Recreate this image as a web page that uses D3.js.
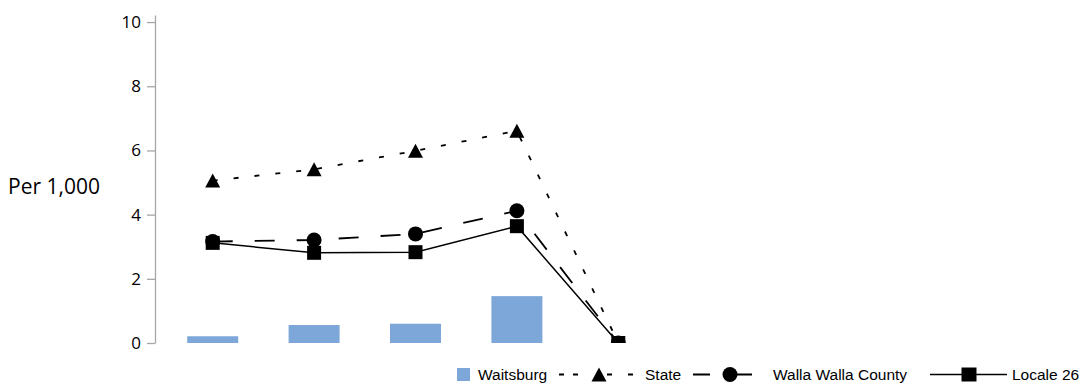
<!DOCTYPE html>
<html>
<head>
<meta charset="utf-8">
<script src="https://cdn.jsdelivr.net/npm/d3@7/dist/d3.min.js"></script>
<style>
  html, body { margin: 0; padding: 0; background: #fff; }
  svg { display: block; }
</style>
</head>
<body>
<svg id="chart" width="1084" height="386"></svg>
<script>
// ---- data ----
const categories = ["1", "2", "3", "4", "5"];
const waitsburg = [0.21, 0.56, 0.60, 1.46, 0];
const state = [5.06, 5.41, 5.99, 6.61, 0];
const county = [3.16, 3.21, 3.40, 4.12, 0];
const locale = [3.12, 2.81, 2.83, 3.64, 0];
const yTicks = [0, 2, 4, 6, 8, 10];
const yLabel = "Per 1,000";
const legendNames = ["Waitsburg", "State", "Walla Walla County", "Locale 26"];

const svg = d3.select("#chart");

const x = d3.scaleBand().domain(categories).range([162, 669]).paddingInner(0).paddingOuter(0);
const y = d3.scaleLinear().domain([0, 10.22]).range([343, 15]);

const tickFont = "'Open Sans', 'Noto Sans', sans-serif";

// clip for plot area
svg.append("defs").append("clipPath").attr("id", "plotclip")
  .append("rect").attr("x", 155).attr("y", 0).attr("width", 929).attr("height", y(0));

// y axis
const yAxis = d3.axisLeft(y).tickValues(yTicks).tickSize(8).tickSizeOuter(0).tickPadding(6).tickFormat(d3.format("d"));
const gy = svg.append("g").attr("transform", "translate(155,0)").call(yAxis);
gy.select(".domain").attr("stroke", "#a6a6a6").attr("stroke-width", 1.3);
gy.selectAll(".tick line").attr("stroke", "#a6a6a6").attr("stroke-width", 1.3);
gy.selectAll(".tick text").attr("fill", "#000").style("font-family", tickFont).style("font-size", "17px");

// y label
svg.append("text").attr("x", 8).attr("y", 194).text(yLabel)
  .style("font-family", tickFont).style("font-size", "21px").attr("fill", "#000");

const plot = svg.append("g").attr("clip-path", "url(#plotclip)");

// bars
const barW = 51;
plot.selectAll("rect.bar").data(waitsburg.map((v, i) => ({ c: categories[i], v })))
  .join("rect").attr("class", "bar")
  .attr("x", d => x(d.c) + x.bandwidth() / 2 - barW / 2)
  .attr("width", barW)
  .attr("y", d => y(d.v))
  .attr("height", d => y(0) - y(d.v))
  .attr("fill", "#7da7d9");

const cx = c => x(c) + x.bandwidth() / 2;
const line = d3.line().x(d => cx(d.c)).y(d => y(d.v));

const triPath = "M0,-7L7.5,7L-7.5,7Z";
const sqPath = "M-7,-7L7,-7L7,7L-7,7Z";

function drawSeries(vals, dash, width, marker) {
  const pts = vals.map((v, i) => ({ c: categories[i], v }));
  plot.append("path").datum(pts).attr("d", line)
    .attr("fill", "none").attr("stroke", "#000").attr("stroke-width", width)
    .attr("stroke-dasharray", dash);
  const g = plot.append("g");
  pts.forEach(p => {
    if (marker === "circle") {
      g.append("circle").attr("cx", cx(p.c)).attr("cy", y(p.v)).attr("r", 7.5).attr("fill", "#000");
    } else {
      g.append("path").attr("d", marker === "tri" ? triPath : sqPath)
        .attr("transform", `translate(${cx(p.c)},${y(p.v)})`).attr("fill", "#000");
    }
  });
}

drawSeries(state, "5,16", 1.8, "tri");
drawSeries(county, "20,22", 1.8, "circle");
drawSeries(locale, null, 1.5, "sq");

// legend
const lg = svg.append("g");
const legendFont = "'Liberation Sans', Arial, sans-serif";
const ly = 374.5;
// Waitsburg
lg.append("rect").attr("x", 457).attr("y", ly - 6.5).attr("width", 13).attr("height", 13).attr("fill", "#7da7d9");
lg.append("text").attr("x", 478).attr("y", ly + 5.5).text(legendNames[0]);
// State
lg.append("line").attr("x1", 559).attr("x2", 634).attr("y1", ly).attr("y2", ly)
  .attr("stroke", "#000").attr("stroke-width", 1.8).attr("stroke-dasharray", "5,9,5,29,5,16,5,100");
lg.append("path").attr("d", triPath).attr("transform", `translate(599,${ly})`).attr("fill", "#000");
lg.append("text").attr("x", 645).attr("y", ly + 5.5).text(legendNames[1]);
// County
lg.append("line").attr("x1", 693).attr("x2", 752).attr("y1", ly).attr("y2", ly)
  .attr("stroke", "#000").attr("stroke-width", 1.8).attr("stroke-dasharray", "17,27,15,100");
lg.append("circle").attr("cx", 730).attr("cy", ly).attr("r", 7.5).attr("fill", "#000");
lg.append("text").attr("x", 773).attr("y", ly + 5.5).text(legendNames[2]);
// Locale
lg.append("line").attr("x1", 930).attr("x2", 1007).attr("y1", ly).attr("y2", ly)
  .attr("stroke", "#000").attr("stroke-width", 1.5);
lg.append("path").attr("d", "M-7.5,-7L7.5,-7L7.5,7L-7.5,7Z").attr("transform", `translate(969,${ly})`).attr("fill", "#000");
lg.append("text").attr("x", 1012).attr("y", ly + 5.5).text(legendNames[3]);
lg.selectAll("text").style("font-family", legendFont).style("font-size", "15.5px").attr("fill", "#000");
</script>
</body>
</html>
